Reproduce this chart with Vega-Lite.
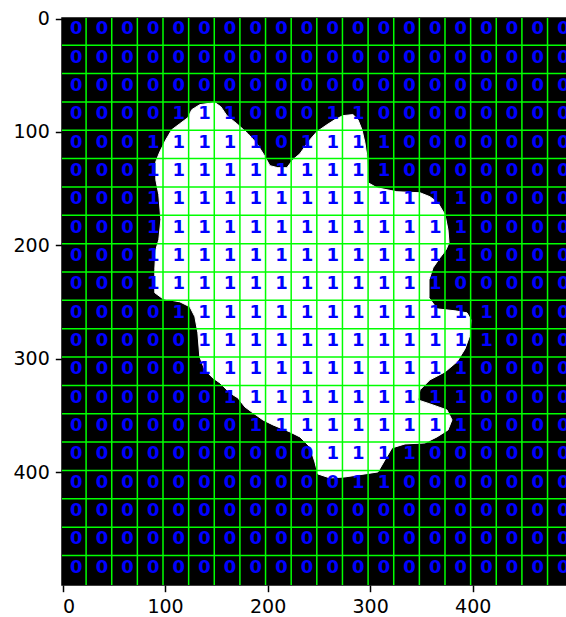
{
  "$schema": "https://vega.github.io/schema/vega-lite/v6.json",
  "width": 504,
  "height": 567,
  "autosize": {"type": "none"},
  "padding": {"left": 62, "top": 18, "right": 0, "bottom": 32},
  "background": "white",
  "config": {
    "view": {"fill": "black", "stroke": "black", "strokeWidth": 1.5},
    "font": "DejaVu Sans",
    "axis": {
      "labelFont": "DejaVu Sans",
      "labelFontSize": 19,
      "labelColor": "black",
      "tickColor": "black",
      "tickWidth": 1.5,
      "tickSize": 6.7,
      "labelPadding": 6,
      "domain": false,
      "grid": false,
      "title": null
    }
  },
  "datasets": {
    "blob": [
      {"i":1,"x":133.9,"y":75.9},{"i":2,"x":148.6,"y":74.1},{"i":3,"x":154.4,"y":77.7},{"i":4,"x":160.3,"y":85.6},
      {"i":5,"x":170.0,"y":92.7},{"i":6,"x":180.8,"y":101.5},{"i":7,"x":189.6,"y":110.3},{"i":8,"x":196.4,"y":120.1},
      {"i":9,"x":202.2,"y":129.7},{"i":10,"x":210.0,"y":131.5},{"i":11,"x":218.8,"y":131.5},{"i":12,"x":224.7,"y":124.4},
      {"i":13,"x":231.5,"y":119.2},{"i":14,"x":236.4,"y":113.0},{"i":15,"x":241.3,"y":106.8},{"i":16,"x":248.1,"y":99.7},
      {"i":17,"x":257.9,"y":93.6},{"i":18,"x":265.7,"y":89.1},{"i":19,"x":273.5,"y":85.6},{"i":20,"x":283.2,"y":84.7},
      {"i":21,"x":288.1,"y":89.1},{"i":22,"x":292.0,"y":98.0},{"i":23,"x":294.9,"y":109.4},{"i":24,"x":296.9,"y":121.8},
      {"i":25,"x":297.9,"y":144.7},{"i":26,"x":306.6,"y":149.2},{"i":27,"x":326.1,"y":152.7},{"i":28,"x":348.6,"y":153.6},
      {"i":29,"x":358.3,"y":157.1},{"i":30,"x":366.1,"y":162.4},{"i":31,"x":373.0,"y":173.0},{"i":32,"x":375.9,"y":186.2},
      {"i":33,"x":376.9,"y":197.7},{"i":34,"x":374.0,"y":203.9},{"i":35,"x":368.1,"y":210.9},{"i":36,"x":361.3,"y":219.8},
      {"i":37,"x":357.4,"y":230.4},{"i":38,"x":357.4,"y":246.2},{"i":39,"x":365.2,"y":256.0},{"i":40,"x":382.7,"y":257.7},
      {"i":41,"x":394.4,"y":259.5},{"i":42,"x":398.3,"y":265.7},{"i":43,"x":397.4,"y":278.9},{"i":44,"x":392.5,"y":291.3},
      {"i":45,"x":384.7,"y":302.7},{"i":46,"x":373.0,"y":311.6},{"i":47,"x":358.3,"y":318.6},{"i":48,"x":348.6,"y":327.4},
      {"i":49,"x":346.6,"y":336.3},{"i":50,"x":358.3,"y":339.8},{"i":51,"x":374.9,"y":345.1},{"i":52,"x":379.8,"y":353.9},
      {"i":53,"x":375.9,"y":362.8},{"i":54,"x":365.2,"y":368.9},{"i":55,"x":353.5,"y":374.2},{"i":56,"x":334.0,"y":375.1},
      {"i":57,"x":321.3,"y":378.6},{"i":58,"x":314.4,"y":389.2},{"i":59,"x":307.6,"y":399.8},{"i":60,"x":275.4,"y":404.2},
      {"i":61,"x":260.8,"y":405.1},{"i":62,"x":249.1,"y":401.6},{"i":63,"x":246.1,"y":391.0},{"i":64,"x":241.3,"y":377.8},
      {"i":65,"x":231.5,"y":368.9},{"i":66,"x":221.8,"y":364.5},{"i":67,"x":205.2,"y":358.3},{"i":68,"x":195.4,"y":353.9},
      {"i":69,"x":185.7,"y":347.7},{"i":70,"x":177.9,"y":342.5},{"i":71,"x":171.0,"y":334.5},{"i":72,"x":163.2,"y":330.1},
      {"i":73,"x":153.5,"y":321.3},{"i":74,"x":146.6,"y":316.9},{"i":75,"x":138.8,"y":309.8},{"i":76,"x":133.9,"y":298.3},
      {"i":77,"x":132.0,"y":277.1},{"i":78,"x":129.1,"y":263.0},{"i":79,"x":124.2,"y":254.2},{"i":80,"x":114.4,"y":249.8},
      {"i":81,"x":97.9,"y":247.1},{"i":82,"x":90.0,"y":241.8},{"i":83,"x":90.0,"y":221.5},{"i":84,"x":91.0,"y":203.9},
      {"i":85,"x":93.9,"y":195.1},{"i":86,"x":95.9,"y":177.4},{"i":87,"x":93.9,"y":155.3},{"i":88,"x":91.0,"y":142.1},
      {"i":89,"x":91.0,"y":126.2},{"i":90,"x":94.9,"y":117.4},{"i":91,"x":100.8,"y":106.8},{"i":92,"x":106.6,"y":98.0},
      {"i":93,"x":114.4,"y":92.7},{"i":94,"x":122.2,"y":87.4},{"i":95,"x":126.1,"y":80.3}
    ],
    "vlines": [
      {"x":23},{"x":48},{"x":73},{"x":98},{"x":123},{"x":148},{"x":173},{"x":198},{"x":223},{"x":248},
      {"x":273},{"x":298},{"x":323},{"x":348},{"x":373},{"x":398},{"x":423},{"x":448},{"x":473}
    ],
    "hlines": [
      {"y":23.5},{"y":48.5},{"y":73.5},{"y":98.5},{"y":123.5},{"y":148.5},{"y":173.5},{"y":198.5},{"y":223.5},{"y":248.5},
      {"y":273.5},{"y":298.5},{"y":323.5},{"y":348.5},{"y":373.5},{"y":398.5},{"y":423.5},{"y":448.5},{"y":473.5}
    ],
    "cells": [
      {"x":12,"y":12,"v":0},{"x":37,"y":12,"v":0},{"x":62,"y":12,"v":0},{"x":87,"y":12,"v":0},{"x":112,"y":12,"v":0},{"x":137,"y":12,"v":0},{"x":162,"y":12,"v":0},{"x":187,"y":12,"v":0},{"x":212,"y":12,"v":0},{"x":237,"y":12,"v":0},{"x":262,"y":12,"v":0},{"x":287,"y":12,"v":0},{"x":312,"y":12,"v":0},{"x":337,"y":12,"v":0},{"x":362,"y":12,"v":0},{"x":387,"y":12,"v":0},{"x":412,"y":12,"v":0},{"x":437,"y":12,"v":0},{"x":462,"y":12,"v":0},{"x":487,"y":12,"v":0},
      {"x":12,"y":37,"v":0},{"x":37,"y":37,"v":0},{"x":62,"y":37,"v":0},{"x":87,"y":37,"v":0},{"x":112,"y":37,"v":0},{"x":137,"y":37,"v":0},{"x":162,"y":37,"v":0},{"x":187,"y":37,"v":0},{"x":212,"y":37,"v":0},{"x":237,"y":37,"v":0},{"x":262,"y":37,"v":0},{"x":287,"y":37,"v":0},{"x":312,"y":37,"v":0},{"x":337,"y":37,"v":0},{"x":362,"y":37,"v":0},{"x":387,"y":37,"v":0},{"x":412,"y":37,"v":0},{"x":437,"y":37,"v":0},{"x":462,"y":37,"v":0},{"x":487,"y":37,"v":0},
      {"x":12,"y":62,"v":0},{"x":37,"y":62,"v":0},{"x":62,"y":62,"v":0},{"x":87,"y":62,"v":0},{"x":112,"y":62,"v":0},{"x":137,"y":62,"v":0},{"x":162,"y":62,"v":0},{"x":187,"y":62,"v":0},{"x":212,"y":62,"v":0},{"x":237,"y":62,"v":0},{"x":262,"y":62,"v":0},{"x":287,"y":62,"v":0},{"x":312,"y":62,"v":0},{"x":337,"y":62,"v":0},{"x":362,"y":62,"v":0},{"x":387,"y":62,"v":0},{"x":412,"y":62,"v":0},{"x":437,"y":62,"v":0},{"x":462,"y":62,"v":0},{"x":487,"y":62,"v":0},
      {"x":12,"y":87,"v":0},{"x":37,"y":87,"v":0},{"x":62,"y":87,"v":0},{"x":87,"y":87,"v":0},{"x":112,"y":87,"v":1},{"x":137,"y":87,"v":1},{"x":162,"y":87,"v":1},{"x":187,"y":87,"v":0},{"x":212,"y":87,"v":0},{"x":237,"y":87,"v":0},{"x":262,"y":87,"v":1},{"x":287,"y":87,"v":1},{"x":312,"y":87,"v":0},{"x":337,"y":87,"v":0},{"x":362,"y":87,"v":0},{"x":387,"y":87,"v":0},{"x":412,"y":87,"v":0},{"x":437,"y":87,"v":0},{"x":462,"y":87,"v":0},{"x":487,"y":87,"v":0},
      {"x":12,"y":112,"v":0},{"x":37,"y":112,"v":0},{"x":62,"y":112,"v":0},{"x":87,"y":112,"v":1},{"x":112,"y":112,"v":1},{"x":137,"y":112,"v":1},{"x":162,"y":112,"v":1},{"x":187,"y":112,"v":1},{"x":212,"y":112,"v":0},{"x":237,"y":112,"v":1},{"x":262,"y":112,"v":1},{"x":287,"y":112,"v":1},{"x":312,"y":112,"v":1},{"x":337,"y":112,"v":0},{"x":362,"y":112,"v":0},{"x":387,"y":112,"v":0},{"x":412,"y":112,"v":0},{"x":437,"y":112,"v":0},{"x":462,"y":112,"v":0},{"x":487,"y":112,"v":0},
      {"x":12,"y":137,"v":0},{"x":37,"y":137,"v":0},{"x":62,"y":137,"v":0},{"x":87,"y":137,"v":1},{"x":112,"y":137,"v":1},{"x":137,"y":137,"v":1},{"x":162,"y":137,"v":1},{"x":187,"y":137,"v":1},{"x":212,"y":137,"v":1},{"x":237,"y":137,"v":1},{"x":262,"y":137,"v":1},{"x":287,"y":137,"v":1},{"x":312,"y":137,"v":1},{"x":337,"y":137,"v":0},{"x":362,"y":137,"v":0},{"x":387,"y":137,"v":0},{"x":412,"y":137,"v":0},{"x":437,"y":137,"v":0},{"x":462,"y":137,"v":0},{"x":487,"y":137,"v":0},
      {"x":12,"y":162,"v":0},{"x":37,"y":162,"v":0},{"x":62,"y":162,"v":0},{"x":87,"y":162,"v":1},{"x":112,"y":162,"v":1},{"x":137,"y":162,"v":1},{"x":162,"y":162,"v":1},{"x":187,"y":162,"v":1},{"x":212,"y":162,"v":1},{"x":237,"y":162,"v":1},{"x":262,"y":162,"v":1},{"x":287,"y":162,"v":1},{"x":312,"y":162,"v":1},{"x":337,"y":162,"v":1},{"x":362,"y":162,"v":1},{"x":387,"y":162,"v":1},{"x":412,"y":162,"v":0},{"x":437,"y":162,"v":0},{"x":462,"y":162,"v":0},{"x":487,"y":162,"v":0},
      {"x":12,"y":187,"v":0},{"x":37,"y":187,"v":0},{"x":62,"y":187,"v":0},{"x":87,"y":187,"v":1},{"x":112,"y":187,"v":1},{"x":137,"y":187,"v":1},{"x":162,"y":187,"v":1},{"x":187,"y":187,"v":1},{"x":212,"y":187,"v":1},{"x":237,"y":187,"v":1},{"x":262,"y":187,"v":1},{"x":287,"y":187,"v":1},{"x":312,"y":187,"v":1},{"x":337,"y":187,"v":1},{"x":362,"y":187,"v":1},{"x":387,"y":187,"v":1},{"x":412,"y":187,"v":0},{"x":437,"y":187,"v":0},{"x":462,"y":187,"v":0},{"x":487,"y":187,"v":0},
      {"x":12,"y":212,"v":0},{"x":37,"y":212,"v":0},{"x":62,"y":212,"v":0},{"x":87,"y":212,"v":1},{"x":112,"y":212,"v":1},{"x":137,"y":212,"v":1},{"x":162,"y":212,"v":1},{"x":187,"y":212,"v":1},{"x":212,"y":212,"v":1},{"x":237,"y":212,"v":1},{"x":262,"y":212,"v":1},{"x":287,"y":212,"v":1},{"x":312,"y":212,"v":1},{"x":337,"y":212,"v":1},{"x":362,"y":212,"v":1},{"x":387,"y":212,"v":1},{"x":412,"y":212,"v":0},{"x":437,"y":212,"v":0},{"x":462,"y":212,"v":0},{"x":487,"y":212,"v":0},
      {"x":12,"y":237,"v":0},{"x":37,"y":237,"v":0},{"x":62,"y":237,"v":0},{"x":87,"y":237,"v":1},{"x":112,"y":237,"v":1},{"x":137,"y":237,"v":1},{"x":162,"y":237,"v":1},{"x":187,"y":237,"v":1},{"x":212,"y":237,"v":1},{"x":237,"y":237,"v":1},{"x":262,"y":237,"v":1},{"x":287,"y":237,"v":1},{"x":312,"y":237,"v":1},{"x":337,"y":237,"v":1},{"x":362,"y":237,"v":1},{"x":387,"y":237,"v":0},{"x":412,"y":237,"v":0},{"x":437,"y":237,"v":0},{"x":462,"y":237,"v":0},{"x":487,"y":237,"v":0},
      {"x":12,"y":262,"v":0},{"x":37,"y":262,"v":0},{"x":62,"y":262,"v":0},{"x":87,"y":262,"v":0},{"x":112,"y":262,"v":1},{"x":137,"y":262,"v":1},{"x":162,"y":262,"v":1},{"x":187,"y":262,"v":1},{"x":212,"y":262,"v":1},{"x":237,"y":262,"v":1},{"x":262,"y":262,"v":1},{"x":287,"y":262,"v":1},{"x":312,"y":262,"v":1},{"x":337,"y":262,"v":1},{"x":362,"y":262,"v":1},{"x":387,"y":262,"v":1},{"x":412,"y":262,"v":1},{"x":437,"y":262,"v":0},{"x":462,"y":262,"v":0},{"x":487,"y":262,"v":0},
      {"x":12,"y":287,"v":0},{"x":37,"y":287,"v":0},{"x":62,"y":287,"v":0},{"x":87,"y":287,"v":0},{"x":112,"y":287,"v":0},{"x":137,"y":287,"v":1},{"x":162,"y":287,"v":1},{"x":187,"y":287,"v":1},{"x":212,"y":287,"v":1},{"x":237,"y":287,"v":1},{"x":262,"y":287,"v":1},{"x":287,"y":287,"v":1},{"x":312,"y":287,"v":1},{"x":337,"y":287,"v":1},{"x":362,"y":287,"v":1},{"x":387,"y":287,"v":1},{"x":412,"y":287,"v":1},{"x":437,"y":287,"v":0},{"x":462,"y":287,"v":0},{"x":487,"y":287,"v":0},
      {"x":12,"y":312,"v":0},{"x":37,"y":312,"v":0},{"x":62,"y":312,"v":0},{"x":87,"y":312,"v":0},{"x":112,"y":312,"v":0},{"x":137,"y":312,"v":1},{"x":162,"y":312,"v":1},{"x":187,"y":312,"v":1},{"x":212,"y":312,"v":1},{"x":237,"y":312,"v":1},{"x":262,"y":312,"v":1},{"x":287,"y":312,"v":1},{"x":312,"y":312,"v":1},{"x":337,"y":312,"v":1},{"x":362,"y":312,"v":1},{"x":387,"y":312,"v":1},{"x":412,"y":312,"v":0},{"x":437,"y":312,"v":0},{"x":462,"y":312,"v":0},{"x":487,"y":312,"v":0},
      {"x":12,"y":337,"v":0},{"x":37,"y":337,"v":0},{"x":62,"y":337,"v":0},{"x":87,"y":337,"v":0},{"x":112,"y":337,"v":0},{"x":137,"y":337,"v":0},{"x":162,"y":337,"v":1},{"x":187,"y":337,"v":1},{"x":212,"y":337,"v":1},{"x":237,"y":337,"v":1},{"x":262,"y":337,"v":1},{"x":287,"y":337,"v":1},{"x":312,"y":337,"v":1},{"x":337,"y":337,"v":1},{"x":362,"y":337,"v":1},{"x":387,"y":337,"v":1},{"x":412,"y":337,"v":0},{"x":437,"y":337,"v":0},{"x":462,"y":337,"v":0},{"x":487,"y":337,"v":0},
      {"x":12,"y":362,"v":0},{"x":37,"y":362,"v":0},{"x":62,"y":362,"v":0},{"x":87,"y":362,"v":0},{"x":112,"y":362,"v":0},{"x":137,"y":362,"v":0},{"x":162,"y":362,"v":0},{"x":187,"y":362,"v":1},{"x":212,"y":362,"v":1},{"x":237,"y":362,"v":1},{"x":262,"y":362,"v":1},{"x":287,"y":362,"v":1},{"x":312,"y":362,"v":1},{"x":337,"y":362,"v":1},{"x":362,"y":362,"v":1},{"x":387,"y":362,"v":1},{"x":412,"y":362,"v":0},{"x":437,"y":362,"v":0},{"x":462,"y":362,"v":0},{"x":487,"y":362,"v":0},
      {"x":12,"y":387,"v":0},{"x":37,"y":387,"v":0},{"x":62,"y":387,"v":0},{"x":87,"y":387,"v":0},{"x":112,"y":387,"v":0},{"x":137,"y":387,"v":0},{"x":162,"y":387,"v":0},{"x":187,"y":387,"v":0},{"x":212,"y":387,"v":0},{"x":237,"y":387,"v":0},{"x":262,"y":387,"v":1},{"x":287,"y":387,"v":1},{"x":312,"y":387,"v":1},{"x":337,"y":387,"v":1},{"x":362,"y":387,"v":0},{"x":387,"y":387,"v":0},{"x":412,"y":387,"v":0},{"x":437,"y":387,"v":0},{"x":462,"y":387,"v":0},{"x":487,"y":387,"v":0},
      {"x":12,"y":412,"v":0},{"x":37,"y":412,"v":0},{"x":62,"y":412,"v":0},{"x":87,"y":412,"v":0},{"x":112,"y":412,"v":0},{"x":137,"y":412,"v":0},{"x":162,"y":412,"v":0},{"x":187,"y":412,"v":0},{"x":212,"y":412,"v":0},{"x":237,"y":412,"v":0},{"x":262,"y":412,"v":0},{"x":287,"y":412,"v":1},{"x":312,"y":412,"v":1},{"x":337,"y":412,"v":0},{"x":362,"y":412,"v":0},{"x":387,"y":412,"v":0},{"x":412,"y":412,"v":0},{"x":437,"y":412,"v":0},{"x":462,"y":412,"v":0},{"x":487,"y":412,"v":0},
      {"x":12,"y":437,"v":0},{"x":37,"y":437,"v":0},{"x":62,"y":437,"v":0},{"x":87,"y":437,"v":0},{"x":112,"y":437,"v":0},{"x":137,"y":437,"v":0},{"x":162,"y":437,"v":0},{"x":187,"y":437,"v":0},{"x":212,"y":437,"v":0},{"x":237,"y":437,"v":0},{"x":262,"y":437,"v":0},{"x":287,"y":437,"v":0},{"x":312,"y":437,"v":0},{"x":337,"y":437,"v":0},{"x":362,"y":437,"v":0},{"x":387,"y":437,"v":0},{"x":412,"y":437,"v":0},{"x":437,"y":437,"v":0},{"x":462,"y":437,"v":0},{"x":487,"y":437,"v":0},
      {"x":12,"y":462,"v":0},{"x":37,"y":462,"v":0},{"x":62,"y":462,"v":0},{"x":87,"y":462,"v":0},{"x":112,"y":462,"v":0},{"x":137,"y":462,"v":0},{"x":162,"y":462,"v":0},{"x":187,"y":462,"v":0},{"x":212,"y":462,"v":0},{"x":237,"y":462,"v":0},{"x":262,"y":462,"v":0},{"x":287,"y":462,"v":0},{"x":312,"y":462,"v":0},{"x":337,"y":462,"v":0},{"x":362,"y":462,"v":0},{"x":387,"y":462,"v":0},{"x":412,"y":462,"v":0},{"x":437,"y":462,"v":0},{"x":462,"y":462,"v":0},{"x":487,"y":462,"v":0},
      {"x":12,"y":487,"v":0},{"x":37,"y":487,"v":0},{"x":62,"y":487,"v":0},{"x":87,"y":487,"v":0},{"x":112,"y":487,"v":0},{"x":137,"y":487,"v":0},{"x":162,"y":487,"v":0},{"x":187,"y":487,"v":0},{"x":212,"y":487,"v":0},{"x":237,"y":487,"v":0},{"x":262,"y":487,"v":0},{"x":287,"y":487,"v":0},{"x":312,"y":487,"v":0},{"x":337,"y":487,"v":0},{"x":362,"y":487,"v":0},{"x":387,"y":487,"v":0},{"x":412,"y":487,"v":0},{"x":437,"y":487,"v":0},{"x":462,"y":487,"v":0},{"x":487,"y":487,"v":0}
    ]
  },
  "layer": [
    {
      "data": {"name": "blob"},
      "mark": {"type": "line", "interpolate": "linear-closed", "fill": "white", "stroke": "white", "strokeWidth": 1, "clip": true},
      "encoding": {
        "x": {"field": "x", "type": "quantitative", "scale": {"domain": [-0.5, 491], "nice": false, "zero": false}, "axis": {"values": [0, 100, 200, 300, 400]}},
        "y": {"field": "y", "type": "quantitative", "scale": {"domain": [-0.5, 499.5], "reverse": true, "nice": false, "zero": false}, "axis": {"values": [0, 100, 200, 300, 400]}},
        "order": {"field": "i", "type": "quantitative"}
      }
    },
    {
      "data": {"name": "vlines"},
      "mark": {"type": "rule", "color": "#00ff00", "strokeWidth": 1.5},
      "encoding": {"x": {"field": "x", "type": "quantitative"}}
    },
    {
      "data": {"name": "hlines"},
      "mark": {"type": "rule", "color": "#00ff00", "strokeWidth": 1.5},
      "encoding": {"y": {"field": "y", "type": "quantitative"}}
    },
    {
      "data": {"name": "cells"},
      "mark": {"type": "text", "color": "#0000ff", "font": "DejaVu Sans", "fontSize": 18, "fontWeight": "bold", "baseline": "middle", "align": "center", "dx": 1.5, "dy": -3, "clip": true},
      "encoding": {
        "x": {"field": "x", "type": "quantitative"},
        "y": {"field": "y", "type": "quantitative"},
        "text": {"field": "v", "type": "nominal"}
      }
    }
  ]
}
